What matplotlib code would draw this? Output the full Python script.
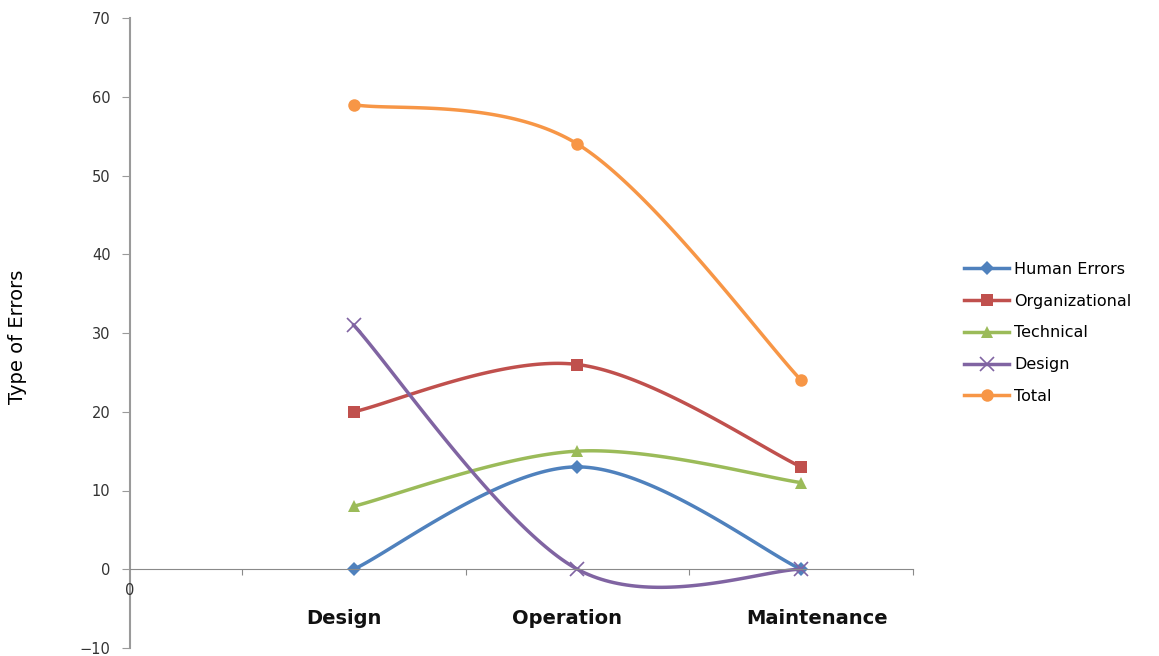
import numpy as np
import matplotlib
matplotlib.use("Agg")
import matplotlib.pyplot as plt

# data
stages = ["Design", "Operation", "Maintenance"]
human_errors = [0, 13, 0]
organizational = [20, 26, 13]
technical = [8, 15, 11]
design = [31, 0, 0]
total = [59, 54, 24]

series = [
    ("Human Errors", human_errors, "#4F81BD", "D", 7),
    ("Organizational", organizational, "#C0504D", "s", 9),
    ("Technical", technical, "#9BBB59", "^", 9),
    ("Design", design, "#8064A2", "x", 10),
    ("Total", total, "#F79646", "o", 9),
]


def smooth(x, y, n=60):
    """Excel-like smoothed line (Catmull-Rom through the points)."""
    x = np.asarray(x, float)
    y = np.asarray(y, float)
    px = np.concatenate([[x[0]], x, [x[-1]]])
    py = np.concatenate([[y[0]], y, [y[-1]]])
    xs, ys = [], []
    for i in range(1, len(px) - 2):
        p0, p1, p2, p3 = (np.array([px[j], py[j]]) for j in (i - 1, i, i + 1, i + 2))
        c1 = p1 + (p2 - p0) / 6
        c2 = p2 - (p3 - p1) / 6
        t = np.linspace(0, 1, n)[:, None]
        b = (1 - t) ** 3 * p1 + 3 * (1 - t) ** 2 * t * c1 + 3 * (1 - t) * t ** 2 * c2 + t ** 3 * p2
        xs.append(b[:, 0])
        ys.append(b[:, 1])
    return np.concatenate(xs), np.concatenate(ys)


fig = plt.figure(figsize=(11.59, 6.56), dpi=100)
ax = fig.add_axes([130 / 1159, 1 - 648 / 656, (913 - 130) / 1159, (648 - 18) / 656])

xpos = np.arange(1, len(stages) + 1)
for label, vals, color, marker, ms in series:
    sx, sy = smooth(xpos, vals)
    ax.plot(sx, sy, color=color, linewidth=2.5)
    mew = 1.2 if marker == "x" else 0
    ax.plot(xpos, vals, linestyle="none", marker=marker, markersize=ms,
            color=color, markeredgewidth=mew)
    ax.plot([], [], color=color, linewidth=2.5, marker=marker, markersize=ms,
            markeredgewidth=mew, label=label)

ax.set_xlim(0, 3.5)
ax.set_ylim(-10, 70)
ax.set_yticks(np.arange(-10, 71, 10))
ax.set_xticks(np.arange(0.5, 3.6, 1.0))
ax.set_xticklabels([])

for s in ["top", "right"]:
    ax.spines[s].set_visible(False)
ax.spines["bottom"].set_position(("data", 0))
ax.spines["left"].set_color("#9a9a9a")
ax.spines["left"].set_linewidth(1.5)
ax.spines["bottom"].set_color("#8a8a8a")
ax.tick_params(axis="y", direction="out", length=6, color="#9a9a9a",
               labelsize=10.5, labelcolor="#333333", pad=8)
ax.tick_params(axis="x", direction="out", length=4, color="#8a8a8a")

# category labels
ax.text(0.0, -2.7, "0", ha="center", va="center", fontsize=10.5, color="#333333")
label_x = [0.955, 1.955, 3.07]
for lx, name in zip(label_x, stages):
    ax.text(lx, -6.2, name, ha="center", va="center", fontsize=14,
            fontweight="bold", color="#111111")

fig.text(18 / 1159, 1 - 337 / 656, "Type of Errors", rotation=90, ha="center",
         va="center", fontsize=14, family=["Liberation Sans Narrow", "DejaVu Sans"])

ax.legend(loc="center left", bbox_to_anchor=(958 / 1159, 1 - 333 / 656),
          bbox_transform=fig.transFigure, frameon=False, fontsize=11.5,
          handlelength=2.8, labelspacing=1.05, handletextpad=0.3, borderaxespad=0)

fig.savefig("out.png", dpi=100)
